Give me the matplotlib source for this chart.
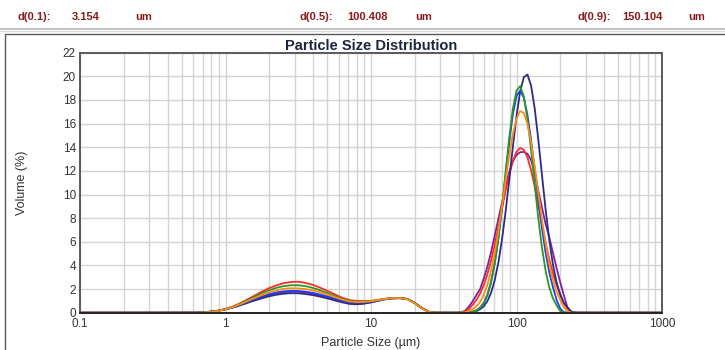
import matplotlib
matplotlib.use("Agg")
import matplotlib.pyplot as plt
from matplotlib.lines import Line2D
from matplotlib.patches import Rectangle

plt.rcParams['font.family'] = ['Liberation Sans', 'DejaVu Sans']

# Bin sizes (um): fine-mode bins, then main-mode bins
size_small = [0.631, 0.708, 0.794, 0.891, 1.0, 1.122, 1.259, 1.413, 1.585, 1.778,
              1.995, 2.239, 2.512, 2.818, 3.162, 3.548, 3.981, 4.467, 5.012, 5.623,
              6.310, 7.079, 7.943, 8.913, 10.0, 11.22, 12.59, 14.13, 15.85, 17.78,
              19.95, 22.39, 25.12, 28.18]
size_main = [39.81, 42.17, 44.67, 47.32, 50.12, 53.09, 56.23, 59.57, 63.10, 66.83,
             70.79, 74.99, 79.43, 84.14, 89.13, 94.41, 100.0, 105.9, 112.2, 118.9,
             125.9, 133.4, 141.3, 149.6, 158.5, 167.9, 177.8, 188.4, 199.5, 211.3,
             223.9, 237.1, 251.2, 266.1, 281.8]

# Volume (%) per measurement
purple_small = [0.01, 0.04, 0.09, 0.17, 0.29, 0.45, 0.65, 0.88, 1.10, 1.31, 1.50, 1.64, 1.74, 1.78, 1.77, 1.71, 1.61,
                1.47, 1.31, 1.13, 0.95, 0.80, 0.75, 0.79, 0.89, 1.02, 1.15, 1.22, 1.23, 1.16, 0.83, 0.39, 0.07, 0]
purple_main = [0, 0.05, 0.2, 0.55, 1.0, 1.5, 2.0, 2.9, 3.9, 5.1, 6.5, 7.9, 9.3, 10.7, 11.9, 12.8, 13.35, 13.58,
               13.6, 13.45, 12.9, 11.9, 10.3, 8.9, 7.5, 6.4, 5.1, 3.8, 2.6, 1.5, 0.45, 0.05, 0, 0, 0]

red_small = [0, 0.03, 0.08, 0.17, 0.32, 0.52, 0.80, 1.12, 1.45, 1.78, 2.08, 2.32, 2.50, 2.60, 2.62, 2.52, 2.36,
             2.12, 1.85, 1.56, 1.28, 1.08, 1.00, 0.98, 1.00, 1.08, 1.17, 1.22, 1.23, 1.16, 0.82, 0.38, 0.06, 0]
red_main = [0, 0.03, 0.12, 0.32, 0.70, 1.09, 1.62, 2.34, 3.27, 4.40, 5.73, 7.22, 8.77, 10.31, 11.70, 12.84, 13.61,
            13.94, 13.79, 13.14, 12.07, 10.68, 9.11, 7.49, 5.93, 4.53, 3.33, 2.36, 1.61, 0.80, 0.35, 0.08, 0, 0, 0]

navy_small = [0.01, 0.04, 0.09, 0.17, 0.28, 0.43, 0.62, 0.83, 1.03, 1.22, 1.39, 1.52, 1.61, 1.65, 1.64, 1.58, 1.49,
              1.36, 1.21, 1.04, 0.88, 0.75, 0.71, 0.76, 0.87, 1.01, 1.14, 1.22, 1.24, 1.17, 0.84, 0.40, 0.07, 0]
navy_main = [0, 0.01, 0.01, 0.03, 0.07, 0.14, 0.29, 0.55, 0.98, 1.68, 2.73, 4.21, 6.16, 8.54, 11.24, 14.04, 16.63,
             18.69, 19.93, 20.15, 19.23, 17.28, 14.62, 11.65, 8.74, 6.18, 4.11, 2.58, 1.52, 0.85, 0.44, 0.12, 0.03, 0, 0]

blue_small = [0, 0.03, 0.08, 0.16, 0.29, 0.46, 0.68, 0.92, 1.16, 1.38, 1.57, 1.72, 1.81, 1.85, 1.84, 1.78, 1.68,
              1.54, 1.38, 1.20, 1.03, 0.89, 0.84, 0.87, 0.95, 1.06, 1.17, 1.23, 1.23, 1.15, 0.81, 0.37, 0.06, 0]
blue_main = [0, 0, 0.02, 0.04, 0.09, 0.21, 0.43, 0.84, 1.52, 2.59, 4.16, 6.24, 8.80, 11.63, 14.43, 16.79, 18.34,
             18.79, 18.20, 16.74, 14.62, 12.13, 9.55, 7.15, 5.08, 3.43, 2.19, 1.10, 0.35, 0.05, 0, 0, 0, 0, 0]

green_small = [0, 0.03, 0.08, 0.17, 0.31, 0.50, 0.76, 1.05, 1.35, 1.64, 1.90, 2.11, 2.25, 2.32, 2.32, 2.25, 2.10,
               1.90, 1.66, 1.41, 1.18, 1.01, 0.94, 0.94, 0.99, 1.08, 1.18, 1.23, 1.23, 1.15, 0.80, 0.36, 0.06, 0]
green_main = [0, 0, 0.01, 0.03, 0.08, 0.19, 0.40, 0.79, 1.47, 2.55, 4.13, 6.28, 8.93, 11.89, 14.80, 17.24, 18.80,
              19.17, 18.32, 16.40, 13.76, 10.82, 7.96, 5.50, 3.55, 2.15, 1.22, 0.65, 0.15, 0.02, 0, 0, 0, 0, 0]

orange_small = [0, 0.02, 0.06, 0.15, 0.29, 0.47, 0.71, 0.98, 1.25, 1.50, 1.73, 1.90, 2.02, 2.07, 2.06, 2.00, 1.89,
                1.73, 1.54, 1.33, 1.12, 0.96, 0.90, 0.91, 0.97, 1.07, 1.17, 1.23, 1.23, 1.15, 0.80, 0.36, 0.06, 0]
orange_main = [0, 0.02, 0.06, 0.16, 0.30, 0.54, 0.92, 1.50, 2.36, 3.52, 5.03, 6.88, 8.96, 11.17, 13.30, 15.12, 16.43,
               17.06, 16.91, 15.98, 14.39, 12.35, 10.10, 7.87, 5.85, 4.14, 2.79, 1.80, 1.10, 0.45, 0.12, 0, 0, 0, 0]

d_labels = ["d(0.1):", "d(0.5):", "d(0.9):"]
d_values = ["3.154", "100.408", "150.104"]

series = [
    (purple_small, purple_main, "#7b22a0"),
    (red_small, red_main, "#ff2a2a"),
    (navy_small, navy_main, "#2c2c88"),
    (blue_small, blue_main, "#1f3ff0"),
    (green_small, green_main, "#2a962a"),
    (orange_small, orange_main, "#ff8c10"),
]

W, H = 725, 350
fig = plt.figure(figsize=(W / 100, H / 100), dpi=100)

# header strip with d-values
hdr_col = "#8b1a1a"
for (lab, val), (x0, x1, x2) in zip(zip(d_labels, d_values), [(18, 72, 135), (300, 347, 415), (578, 622, 688)]):
    fig.text(x0 / W, 1 - 17 / H, lab, color=hdr_col, fontsize=8, fontweight="bold", va="center")
    fig.text(x1 / W, 1 - 17 / H, val, color=hdr_col, fontsize=8, fontweight="bold", va="center")
    fig.text(x2 / W, 1 - 17 / H, "um", color=hdr_col, fontsize=8, fontweight="bold", va="center")
fig.add_artist(Line2D([0, 1], [1 - 28.5 / H] * 2, color="#b8b8b8", lw=1.2))
fig.add_artist(Line2D([0, 1], [1 - 31 / H] * 2, color="#dcdcdc", lw=1.0))
fig.add_artist(Rectangle((5 / W, -0.1), 1.2, 1.1 - 34.5 / H, transform=fig.transFigure,
                         fill=False, edgecolor="#5a5a5a", lw=1.0))

ax = fig.add_axes([80 / W, 1 - 312.7 / H, 582 / W, 260 / H])
for small, main, col in series:
    x = [0.1] + size_small + size_main + [1000]
    y = [0] + small + main + [0]
    ax.plot(x, y, color=col, lw=1.3)

ax.set_xscale("log")
ax.set_xlim(0.1, 1000)
ax.set_ylim(0, 22)
ax.set_xticks([0.1, 1, 10, 100, 1000])
ax.set_xticklabels(["0.1", "1", "10", "100", "1000"])
ax.set_yticks(range(0, 23, 2))
ax.grid(which="both", color="#d4d4d4", lw=1.0)
ax.set_axisbelow(True)
ax.tick_params(which="both", length=0, labelsize=8.5, colors="#333333")
ax.tick_params(axis="x", pad=4)
ax.tick_params(axis="y", pad=3)
for s in ["left", "top", "right"]:
    ax.spines[s].set_color("#5a5a5a")
    ax.spines[s].set_linewidth(1.4)
ax.spines["bottom"].set_color("#222222")
ax.spines["bottom"].set_linewidth(1.4)

ax.set_title("Particle Size Distribution", fontsize=10.5, fontweight="bold", color="#1c2540", pad=2)
ax.set_xlabel("Particle Size (µm)", fontsize=9, color="#333333", labelpad=5)
ax.set_ylabel("Volume (%)", fontsize=9, color="#333333", labelpad=25)

fig.savefig("out.png", dpi=100)
